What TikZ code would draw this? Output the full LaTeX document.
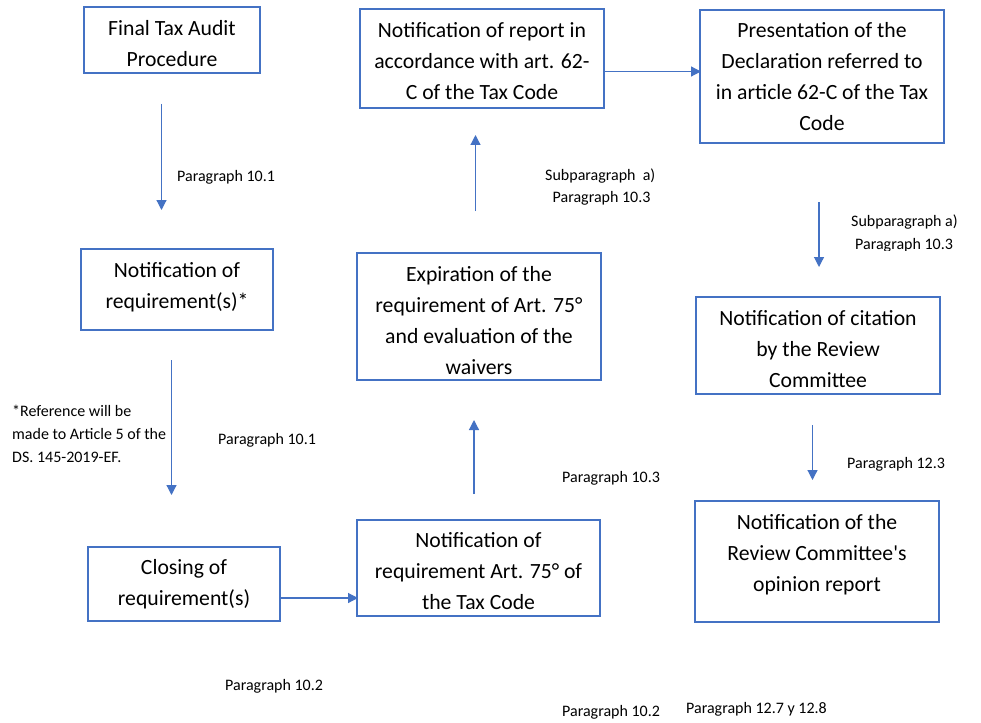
\documentclass[tikz,border=0pt]{standalone}
\usepackage{fontspec}
\newfontfamily\carl{Carlito}
\usetikzlibrary{arrows.meta}
\definecolor{boxblue}{HTML}{4472C4}
\tikzset{
  box/.style={draw=boxblue, line width=1.2pt, rectangle, inner sep=0pt},
  boxtext/.style={inner sep=0pt, align=center, font=\carl\fontsize{21.7}{31}\selectfont, text=black},
  lbl/.style={inner sep=0pt, anchor=base west, font=\carl\fontsize{16}{23}\selectfont, text=black},
  conn/.style={draw=boxblue, line width=1.2pt, -{Triangle[length=10pt,width=10pt]}}
}
\begin{document}
\begin{tikzpicture}[x=1pt,y=-1pt]
\useasboundingbox[fill=white] (0,0) rectangle (981,722);
% boxes
\node[box, minimum width=176, minimum height=66] (b1) at (172,40) {};
\node[box, minimum width=244, minimum height=99] (b2) at (482,58.5) {};
\node[box, minimum width=244, minimum height=133] (b3) at (822,76.5) {};
\node[box, minimum width=192, minimum height=81] (b4) at (177,289.5) {};
\node[box, minimum width=244, minimum height=127] (b5) at (479,316.5) {};
\node[box, minimum width=244, minimum height=97] (b6) at (818,345.5) {};
\node[box, minimum width=192, minimum height=74] (b7) at (184,584) {};
\node[box, minimum width=243, minimum height=96] (b8) at (478.5,568) {};
\node[box, minimum width=244, minimum height=121] (b9) at (817,561.5) {};
% box texts
\node[boxtext] (t1) at ([yshift=-4pt]b1.center) {Final Tax Audit\\Procedure};
\node[boxtext] (t2) at ([yshift=-3pt]b2.center) {Notification of report in\\accordance with art. 62-\\C of the Tax Code};
\node[boxtext] (t3) at ([yshift=0pt]b3.center) {Presentation of the\\Declaration referred to\\in article 62-C of the Tax\\Code};
\node[boxtext] (t4) at ([yshift=2pt]b4.center) {Notification of\\requirement(s)*};
\node[boxtext] (t5) at ([yshift=-4pt]b5.center) {Expiration of the\\requirement of Art. 75°\\and evaluation of the\\waivers};
\node[boxtext] (t6) at ([yshift=-3.5pt]b6.center) {Notification of citation\\by the Review\\Committee};
\node[boxtext] (t7) at ([yshift=0pt]b7.center) {Closing of\\requirement(s)};
\node[boxtext] (t8) at ([yshift=-3.5pt]b8.center) {Notification of\\requirement Art. 75° of\\the Tax Code};
\node[boxtext] (t9) at ([yshift=7pt]b9.center) {Notification of the\\Review Committee's\\opinion report};
% arrow end points
\coordinate (a1s) at (161.5,104); \coordinate (a1e) at (161.5,210);
\coordinate (a2s) at (171.5,360); \coordinate (a2e) at (171.5,495);
\coordinate (a3s) at (280,598);   \coordinate (a3e) at (358,598);
\coordinate (a4s) at (474,494);   \coordinate (a4e) at (474,420);
\coordinate (a5s) at (475.5,211); \coordinate (a5e) at (475.5,135);
\coordinate (a6s) at (604,71.5);  \coordinate (a6e) at (701,71.5);
\coordinate (a7s) at (819,202);   \coordinate (a7e) at (819,267);
\coordinate (a8s) at (812.5,425); \coordinate (a8e) at (812.5,480);
\draw[conn] (a1s) -- (a1e);
\draw[conn] (a2s) -- (a2e);
\draw[conn] (a3s) -- (a3e);
\draw[conn] (a4s) -- (a4e);
\draw[conn] (a5s) -- (a5e);
\draw[conn] (a6s) -- (a6e);
\draw[conn] (a7s) -- (a7e);
\draw[conn] (a8s) -- (a8e);
% labels
\node[lbl] (l1) at (177,182) {Paragraph 10.1};
\node[lbl] (l2) at (545,180) {Subparagraph\ \ a)};
\node[lbl] (l3) at (552.5,202) {Paragraph 10.3};
\node[lbl] (l4) at (851,226) {Subparagraph a)};
\begin{scope}
\clip (840,200) rectangle (981,250.5);
\node[lbl] (l5) at (855,249.5) {Paragraph 10.3};
\end{scope}
\node[lbl, align=left, anchor=north west] (l6) at (12,405) {*Reference will be\\made to Article 5 of the\\DS. 145-2019-EF.};
\node[lbl] (l7) at (218,444) {Paragraph 10.1};
\node[lbl] (l8) at (562,482) {Paragraph 10.3};
\node[lbl] (l9) at (847,468) {Paragraph 12.3};
\node[lbl] (l10) at (225,690) {Paragraph 10.2};
\node[lbl] (l11) at (562,716) {Paragraph 10.2};
\node[lbl] (l12) at (686,713) {Paragraph 12.7 y 12.8};
\end{tikzpicture}
\end{document}
